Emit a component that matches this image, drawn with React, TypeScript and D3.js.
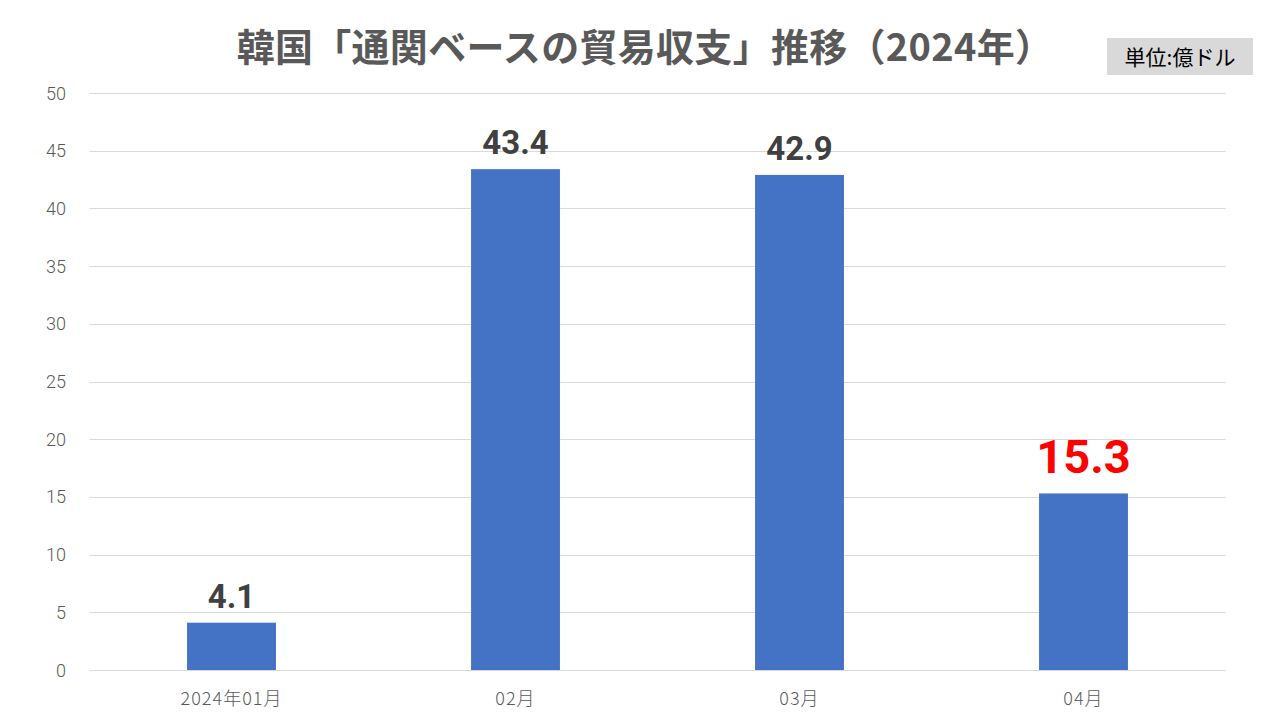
import React from "react";
import * as d3 from "d3";

const categories = ["2024年01月", "02月", "03月", "04月"];
const values = [4.1, 43.4, 42.9, 15.3];
const labelColors = ["#404040", "#404040", "#404040", "#FF0000"];
const yTicks = [0, 5, 10, 15, 20, 25, 30, 35, 40, 45, 50];
const title = "韓国「通関ベースの貿易収支」推移（2024年）";
const unitLabel = "単位:億ドル";

const W = 1280, H = 720;
const left = 89.5, right = 1225.5, top = 93, bottom = 670;

export default function App() {
  const x = d3.scaleBand<string>().domain(categories).range([left, right]).paddingInner(0.687).paddingOuter(0.3435);
  const y = d3.scaleLinear().domain([0, 50]).range([bottom, top]);
  const font = "'Noto Sans CJK JP', 'Noto Sans', sans-serif";
  return (
    <svg width={W} height={H} style={{ position: "absolute", left: 0, top: 0, background: "#fff" }} fontFamily={font}>
      <rect width={W} height={H} fill="#fff" />
      <text x={645} y={61} textAnchor="middle" fontSize={38} fontWeight="bold" fill="#595959" letterSpacing={0.3}>{title}</text>
      <rect x={1107} y={38} width={146} height={37} fill="#D9D9D9" />
      <text x={1180} y={64.5} textAnchor="middle" fontSize={21} fill="#000">{unitLabel}</text>
      {yTicks.map((t) => (
        <g key={t}>
          <line x1={left} x2={right} y1={Math.round(y(t)) + 0.5} y2={Math.round(y(t)) + 0.5} stroke="#D9D9D9" strokeWidth={1} />
          <text x={66} y={y(t) + 6.5} textAnchor="end" fontSize={18} fill="#595959" fontWeight={300} fontFamily="Roboto, sans-serif">{t}</text>
        </g>
      ))}
      {categories.map((c, i) => (
        <g key={c}>
          <rect x={x(c)} y={y(values[i])} width={x.bandwidth()} height={y(0) - y(values[i])} fill="#4472C4" />
          <text x={x(c)! + x.bandwidth() / 2} y={705} textAnchor="middle" fontSize={18} fontWeight={300} letterSpacing={1} fill="#595959">{c}</text>
          <text x={x(c)! + x.bandwidth() / 2} y={y(values[i]) - (i === 3 ? 20 : 15)} textAnchor="middle"
            fontSize={i === 3 ? 47 : 33} fontWeight="bold" fill={labelColors[i]} fontFamily="Roboto, sans-serif">{values[i].toFixed(1)}</text>
        </g>
      ))}
    </svg>
  );
}
